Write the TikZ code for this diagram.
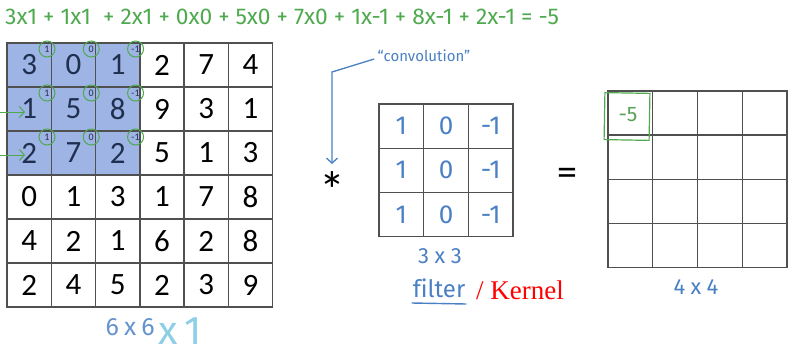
\documentclass[tikz,border=0pt]{standalone}
\usepackage{fontspec}
\setmainfont{Carlito}
\newfontfamily\handfont{Fira Sans}
\newfontfamily\kernfont{Liberation Serif}
\usetikzlibrary{arrows.meta}

\definecolor{cellfill}{HTML}{9EB4E4}
\definecolor{navy}{HTML}{1F2F4F}
\definecolor{gridgray}{HTML}{505050}
\definecolor{penGreen}{HTML}{4FAA4F}
\definecolor{penBlue}{HTML}{4A80C4}
\definecolor{penCyan}{HTML}{8ECFE6}
\definecolor{kernred}{HTML}{FF0000}

\begin{document}
\begin{tikzpicture}[x=1pt,y=-1pt,
  cellbase/.style={draw=gridgray, line width=1.3pt, inner sep=0pt, anchor=center},
  bigcell/.style={cellbase, minimum width=44.3pt, minimum height=44pt,
    font=\fontsize{31}{31}\selectfont},
  filtcell/.style={cellbase, minimum width=44.7pt, minimum height=44.2pt,
    text=penBlue, font=\handfont\fontsize{26}{26}\selectfont},
  outcell/.style={cellbase, minimum width=44.75pt, minimum height=44.1pt},
  weightmark/.style={circle, draw=penGreen, line width=1pt, minimum size=16pt,
    inner sep=0pt, text=navy, font=\fontsize{10}{10}\selectfont},
  greenpen/.style={text=penGreen, font=\handfont\fontsize{22.8}{22.8}\selectfont},
  penlabel/.style={text=penBlue, inner sep=0pt,
    font=\handfont\fontsize{22}{22}\selectfont\addfontfeatures{LetterSpace=25}},
  penarrow/.style={line width=1.3pt, -{Straight Barb[length=5pt,width=11pt]}},
]
\useasboundingbox (0,0) rectangle (802,361);

% highlighted 3x3 window of the input
\fill[cellfill] (7,43) rectangle (139.8,175);

% 6x6 input image
\foreach \row [count=\r] in {{3,0,1,2,7,4},{1,5,8,9,3,1},{2,7,2,5,1,3},
                             {0,1,3,1,7,8},{4,2,1,6,2,8},{2,4,5,2,3,9}} {
  \foreach \v [count=\c] in \row {
    \pgfmathsetmacro\cx{7+44.28*(\c-0.5)}
    \pgfmathsetmacro\cy{43+44*(\r-0.5)}
    \node[bigcell] (A-\r-\c) at (\cx,\cy)
      {\ifnum\r<4 \ifnum\c<4 \color{navy}\fi\fi\v};
  }
}

% filter weights written over the window
\foreach \r in {1,2,3} {
  \foreach \w [count=\c] in {1,0,-1} {
    \pgfmathsetmacro\wx{7+44.28*(\c-1)+40}
    \pgfmathsetmacro\wy{43+44*(\r-1)+6}
    \node[weightmark] (W-\r-\c) at (\wx,\wy) {\w};
  }
}

% row markers
\coordinate (m2s) at (0,112);
\coordinate (m2e) at (25,112);
\coordinate (m3s) at (0,155);
\coordinate (m3e) at (25,155);
\draw[penarrow, draw=penGreen, line width=1pt] (m2s) -- (m2e);
\draw[penarrow, draw=penGreen, line width=1pt] (m3s) -- (m3e);

% worked sum
\node[greenpen, anchor=west, inner sep=0pt] (sum) at (5,17)
  {3x1 + 1x1 \ + 2x1 + 0x0 + 5x0 + 7x0 + 1x-1 + 8x-1 + 2x-1 = -5};

% convolution operator
\node[text=penBlue, font=\handfont\fontsize{15}{15}\selectfont] (conv) at (424,56)
  {\textquotedblleft convolution\textquotedblright};
\node[font=\fontsize{52}{52}\selectfont, inner sep=0pt] (ast) at (332,190) {*};
\coordinate (bend) at (332,72);
\draw[penarrow, draw=penBlue] ([yshift=-3pt]conv.west) -- (bend) -- (332,164);

% 3x3 filter
\foreach \r in {1,2,3} {
  \foreach \w [count=\c] in {1,0,-1} {
    \pgfmathsetmacro\fx{379+44.7*(\c-0.5)}
    \pgfmathsetmacro\fy{104+44.2*(\r-0.5)}
    \node[filtcell] (F-\r-\c) at (\fx,\fy) {\w};
  }
}
\node[penlabel] (fsize) at (440,256) {3x3};
\node[text=penBlue, inner sep=0pt, anchor=base,
  font=\handfont\fontsize{24}{24}\selectfont\addfontfeatures{Ligatures=NoCommon}]
  (fname) at (439,297) {filter};
\draw[penBlue, line width=1.4pt] ([xshift=-1pt,yshift=-6pt]fname.base west)
  -- ([xshift=1pt,yshift=-7pt]fname.base east);
\node[text=kernred, font=\kernfont\fontsize{27}{27}\selectfont, anchor=base west,
  inner sep=0pt] (kern) at (476,299) {/ Kernel};

% equals
\node[font=\fontsize{40}{40}\selectfont, inner sep=0pt] (eqs) at (567,177) {=};

% 4x4 output
\foreach \r in {1,2,3,4} {
  \foreach \c in {1,2,3,4} {
    \pgfmathsetmacro\ox{608+44.75*(\c-0.5)}
    \pgfmathsetmacro\oy{91+44.1*(\r-0.5)}
    \node[outcell] (B-\r-\c) at (\ox,\oy) {};
  }
}
\node[draw=penGreen, line width=1.2pt, minimum width=45pt, minimum height=47pt,
  rotate=-1, inner sep=0pt] (hl) at (627,116.5) {};
\node[text=penGreen!80!gray, font=\handfont\fontsize{21}{21}\selectfont] (res) at (628,115) {-5};
\node[penlabel] (osize) at (696,287) {4x4};

% input size
\node[penlabel, text=penBlue!85!white, anchor=east, font=\handfont\fontsize{25}{25}\selectfont\addfontfeatures{LetterSpace=22}] (isize) at (155,327) {6x6};
\node[text=penCyan, inner sep=0pt, anchor=west,
  font=\handfont\fontsize{40}{40}\selectfont\addfontfeatures{LetterSpace=18}]
  (ich) at (158,331) {x1};
\end{tikzpicture}
\end{document}
